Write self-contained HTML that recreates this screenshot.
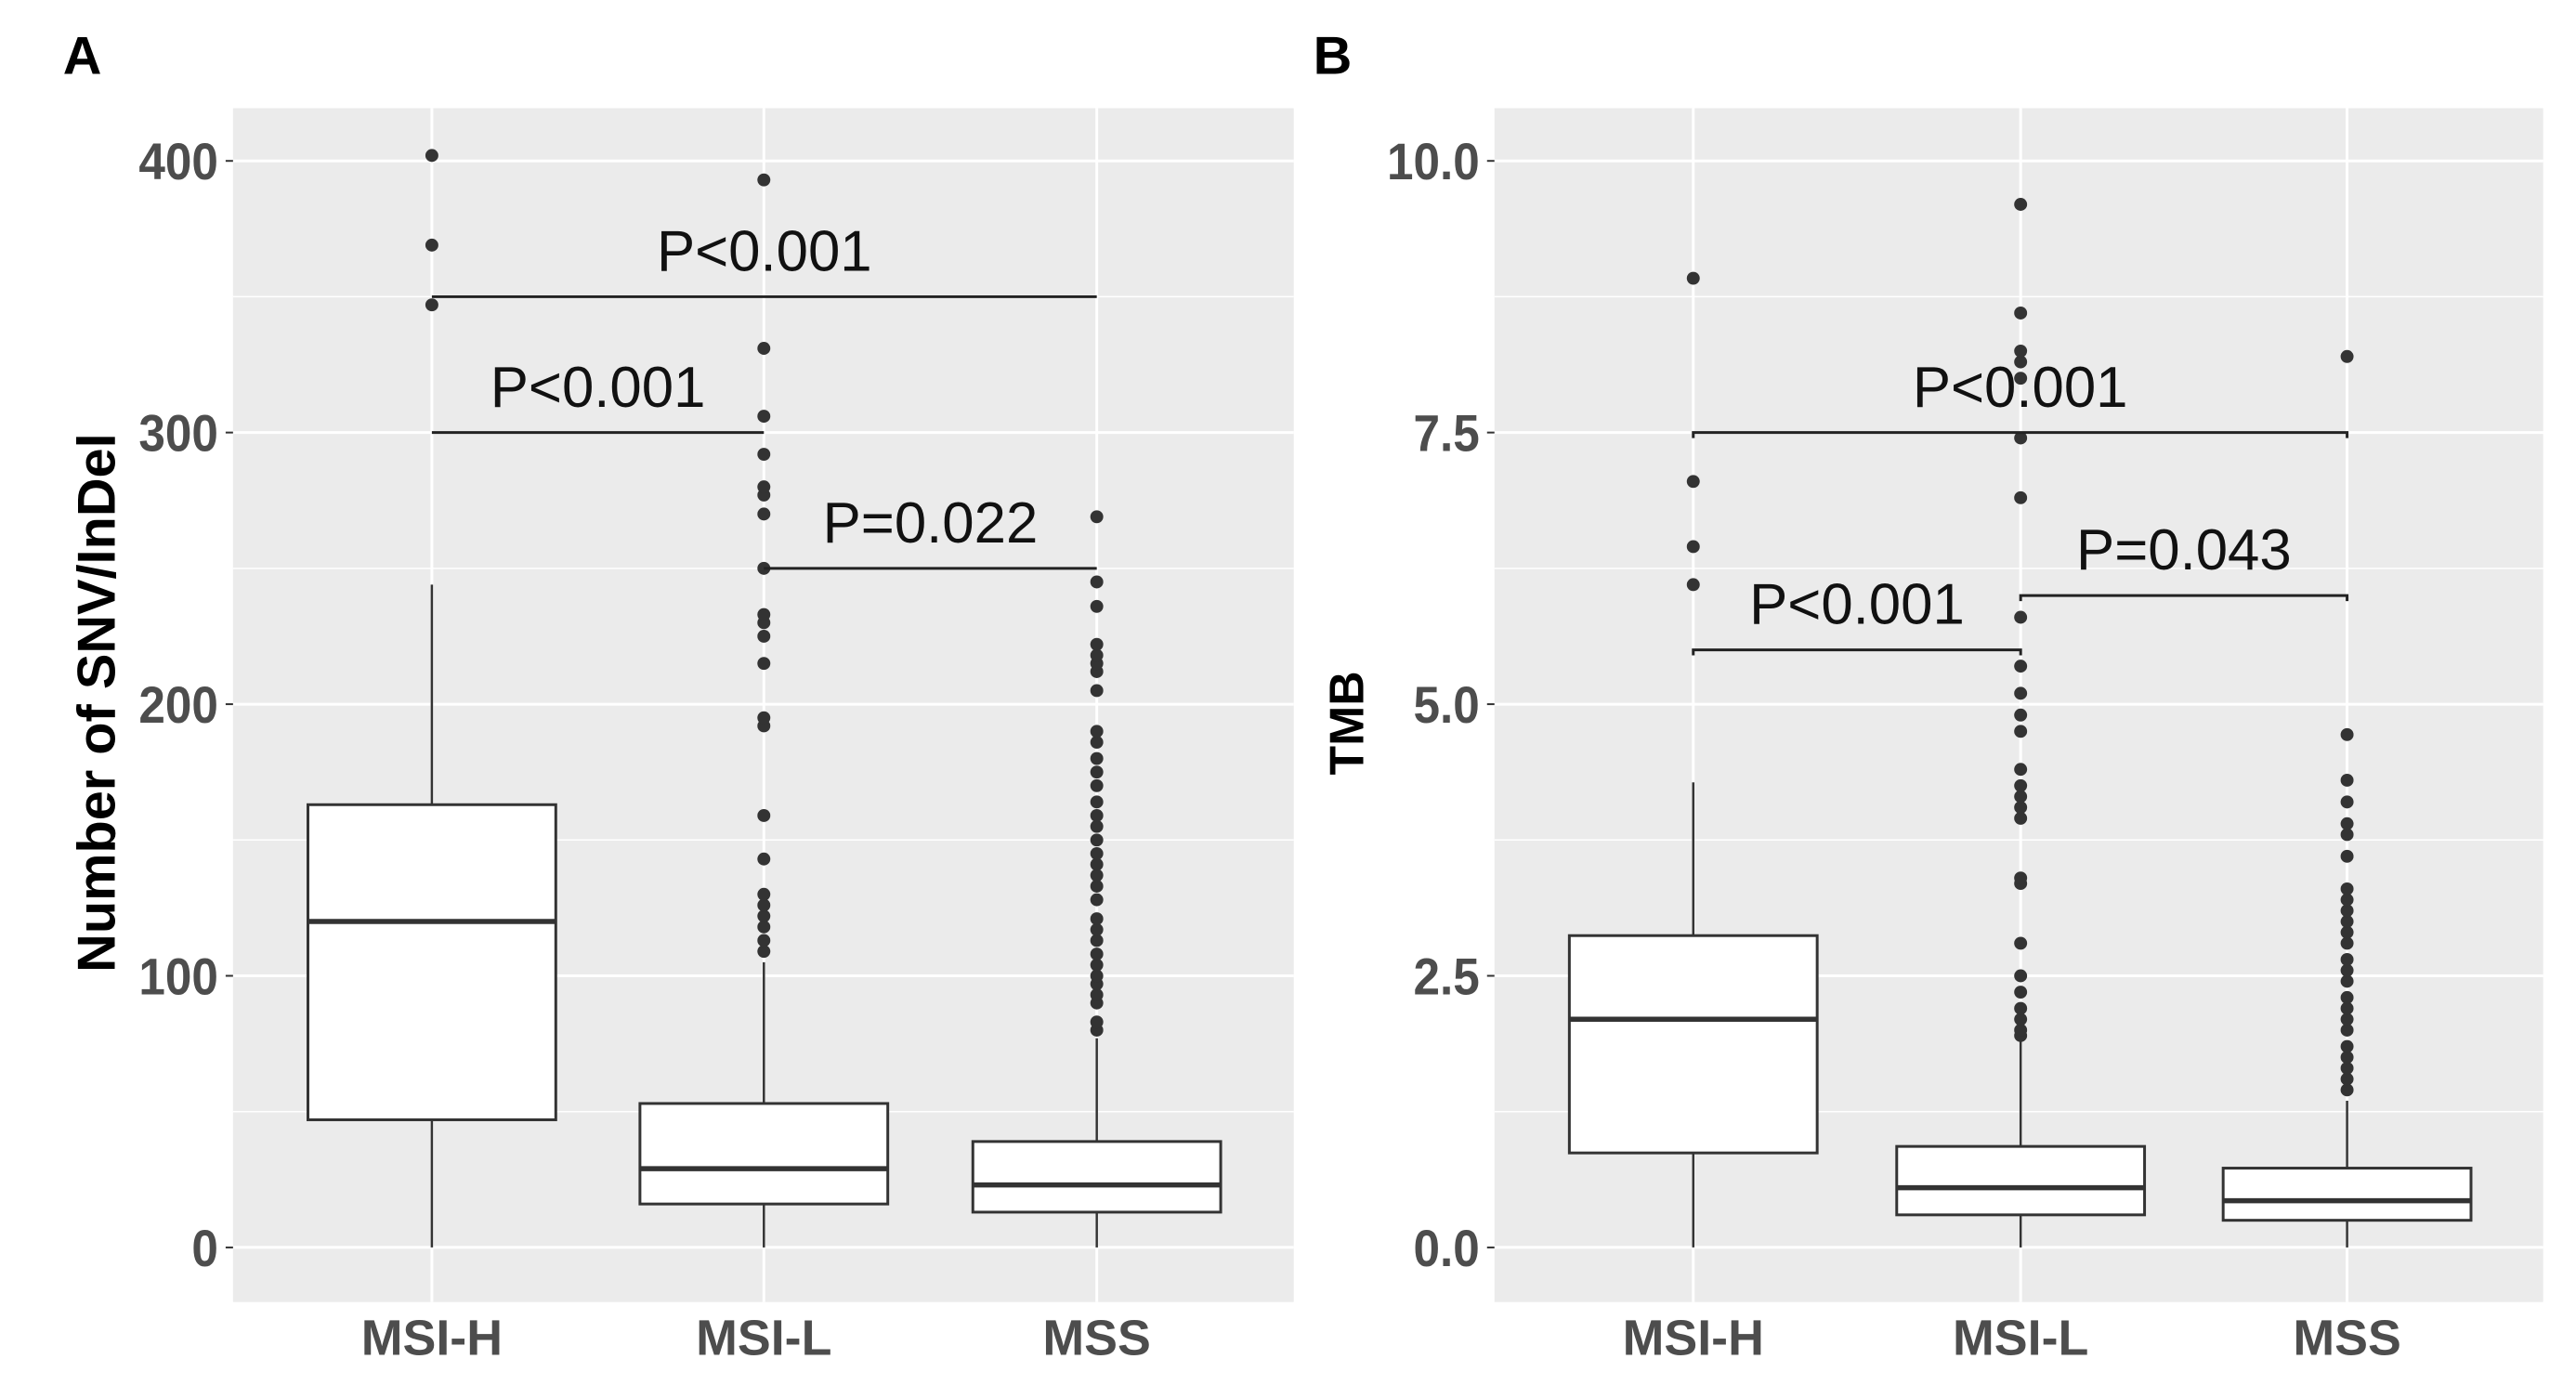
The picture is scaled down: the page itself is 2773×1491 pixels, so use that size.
<!DOCTYPE html>
<html><head><meta charset="utf-8"><style>
body{margin:0;background:#fff;}
svg{display:block;font-family:"Liberation Sans",Arial,sans-serif;}
</style></head><body>
<svg width="2773" height="1491" viewBox="0 0 2773 1491" xmlns="http://www.w3.org/2000/svg"><g id="fig" transform="scale(0.9955)"></g></svg>
<script>
const categories = ["MSI-H","MSI-L","MSS"];
// Panel A: SNV/InDel
const aStats = [[0,47,120,163,244],[0,16,29,53,105],[0,13,23,39,77]];
const aOutH = [347,369,402];
const aOutL = [109,113,118,122,126,130,143,159,192,195,215,225,230,233,250,270,277,280,292,306,331,393];
const aOutS = [80,83,90,93,97,100,104,108,113,117,121,128,133,137,141,145,150,155,159,164,170,175,180,186,190,205,212,215,218,222,236,245,269];
const aTicks = [0,100,200,300,400];
const aTickLabels = ["0","100","200","300","400"];
const aBrackets = [[0,2,350,"P<0.001"],[0,1,300,"P<0.001"],[1,2,250,"P=0.022"]];
// Panel B: TMB
const bStats = [[0,0.87,2.1,2.87,4.28],[0,0.3,0.55,0.93,1.9],[0,0.25,0.43,0.73,1.35]];
const bOutH = [6.1,6.45,7.05,8.92];
const bOutL = [1.95,2.0,2.1,2.2,2.35,2.5,2.8,3.35,3.4,3.95,4.05,4.15,4.25,4.4,4.75,4.9,5.1,5.35,5.8,6.9,7.45,8.0,8.15,8.25,8.6,9.6];
const bOutS = [1.45,1.55,1.65,1.75,1.85,2.0,2.1,2.2,2.3,2.45,2.55,2.65,2.8,2.9,3.0,3.1,3.2,3.3,3.6,3.8,3.9,4.1,4.3,4.72,8.2];
const bTicks = [0,2.5,5,7.5,10];
const bTickLabels = ["0.0","2.5","5.0","7.5","10.0"];
const bBrackets = [[0,2,7.5,"P<0.001"],[0,1,5.5,"P<0.001"],[1,2,6.0,"P=0.043"]];

const NS="http://www.w3.org/2000/svg";
const svg=document.getElementById('fig');
function mk(tag,attrs,parent){const e=document.createElementNS(NS,tag);for(const k in attrs)e.setAttribute(k,attrs[k]);(parent||svg).appendChild(e);return e;}

function panel(o){
  const g=mk('g',{});
  
  
  const y=v=>o.y0+(v-o.vmin)*(o.y1-o.y0)/(o.vmax-o.vmin);
  const x=i=>o.xs[i];
  const bg=mk('rect',{x:o.left,y:117,width:o.right-o.left,height:1291,fill:'#ebebeb'},g);
  
  
  for(let i=0;i<o.ticks.length-1;i++){const m=(o.ticks[i]+o.ticks[i+1])/2;
    mk('line',{x1:o.left,x2:o.right,y1:y(m),y2:y(m),stroke:'#fff','stroke-width':1.5},g);}
  o.ticks.forEach((t,i)=>{
    mk('line',{x1:o.left,x2:o.right,y1:y(t),y2:y(t),stroke:'#fff','stroke-width':3},g);
    const tl=mk('text',{x:o.left-16,y:y(t)+20,'text-anchor':'end','font-size':56,'font-weight':'bold',fill:'#4d4d4d',transform:`translate(${(o.left-16)*0.08},0) scale(0.92,1)`},g);
    tl.textContent=o.tickLabels[i];
    
    
    mk('line',{x1:o.left-8,x2:o.left,y1:y(t),y2:y(t),stroke:'#333','stroke-width':2},g);
  });
  categories.forEach((c,i)=>{
    mk('line',{x1:x(i),x2:x(i),y1:117,y2:1408,stroke:'#fff','stroke-width':3},g);
    const xl=mk('text',{x:x(i),y:1465,'text-anchor':'middle','font-size':54,'font-weight':'bold',fill:'#4d4d4d'},g);
    xl.textContent=c;
    
    
  });
  const outs=[o.outH,o.outL,o.outS];
  o.stats.forEach((s,i)=>{
    const hw=134;
    const bx=mk('g',{},g);
    
    
    mk('line',{x1:x(i),x2:x(i),y1:y(s[0]),y2:y(s[1]),stroke:'#333','stroke-width':2.5},bx);
    mk('line',{x1:x(i),x2:x(i),y1:y(s[3]),y2:y(s[4]),stroke:'#333','stroke-width':2.5},bx);
    mk('rect',{x:x(i)-hw,y:y(s[3]),width:2*hw,height:y(s[1])-y(s[3]),fill:'#fff',stroke:'#333','stroke-width':3},bx);
    mk('line',{x1:x(i)-hw,x2:x(i)+hw,y1:y(s[2]),y2:y(s[2]),stroke:'#333','stroke-width':5.5},bx);
    outs[i].forEach(v=>{
      const p=mk('circle',{cx:x(i),cy:y(v),r:7,fill:'#333'},bx);
      
      
    });
  });
  o.brackets.forEach(b=>{
    const bg2=mk('g',{},g);
    
    
    const yy=y(b[2]);
    mk('path',{d:`M${x(b[0])},${yy+o.tick}V${yy}H${x(b[1])}V${yy+o.tick}`,fill:'none',stroke:'#222','stroke-width':3},bg2);
    const t=mk('text',{x:(x(b[0])+x(b[1]))/2,y:yy-28,'text-anchor':'middle','font-size':62,fill:'#111'},bg2);
    t.textContent=b[3];
  });
  const yt=mk('text',{transform:`translate(${o.titleX},${o.titleY}) rotate(-90)`,'text-anchor':'middle','font-size':o.titleSize,'font-weight':'bold',fill:'#000'},g);
  yt.textContent=o.title;
  
  
  const pl=mk('text',{x:o.labelX,y:80,'font-size':58,'font-weight':'bold',fill:'#000'},g);
  pl.textContent=o.label;
  
  
}
panel({name:'panel-a',left:252,right:1399,xs:[467,826,1186],y0:1349,y1:174,vmin:0,vmax:400,
  stats:aStats,outH:aOutH,outL:aOutL,outS:aOutS,ticks:aTicks,tickLabels:aTickLabels,brackets:aBrackets,
  tick:0,title:'Number of SNV/InDel',titleSize:58,titleX:124,titleY:760,label:'A',labelX:68});
panel({name:'panel-b',left:1616,right:2750,xs:[1831,2185,2538],y0:1349,y1:174,vmin:0,vmax:10,
  stats:bStats,outH:bOutH,outL:bOutL,outS:bOutS,ticks:bTicks,tickLabels:bTickLabels,brackets:bBrackets,
  tick:6,title:'TMB',titleSize:52,titleX:1474,titleY:782,label:'B',labelX:1420});
</script>
</body></html>
